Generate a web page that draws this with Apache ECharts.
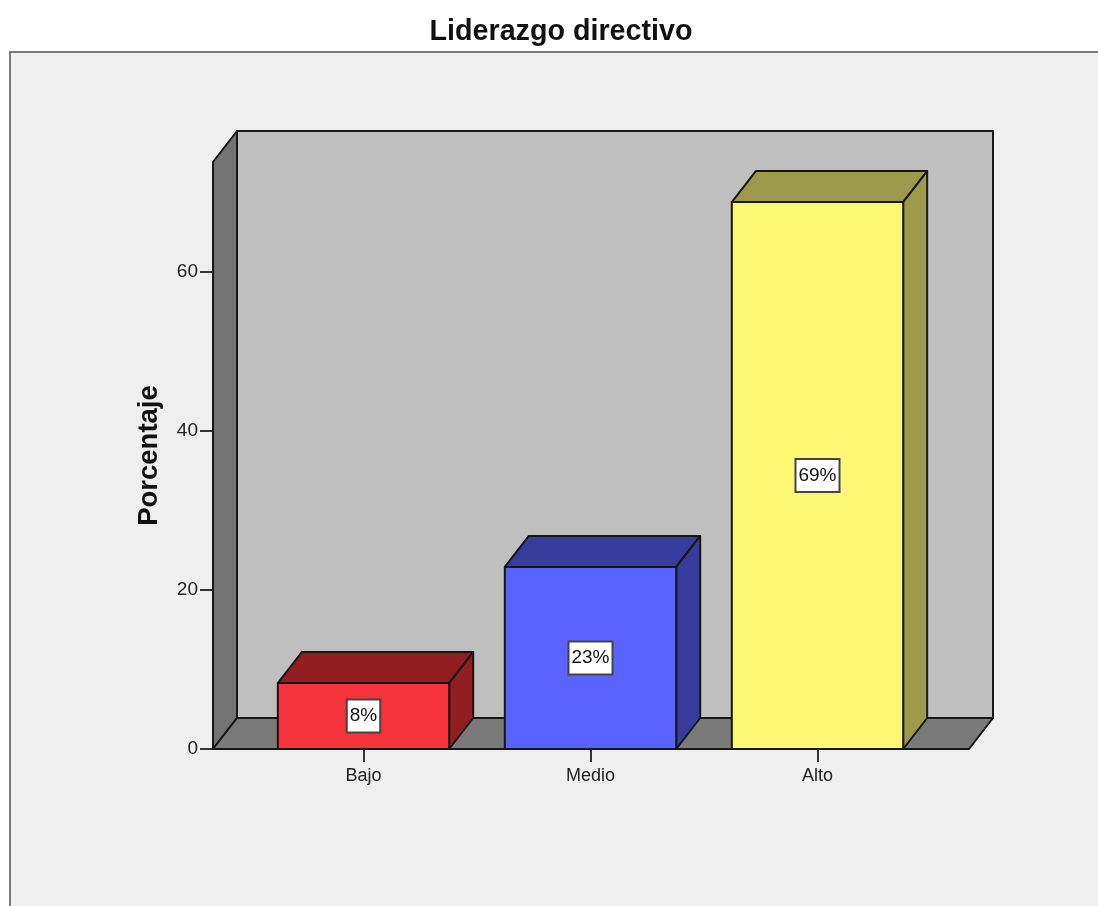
<!DOCTYPE html>
<html>
<head>
<meta charset="utf-8">
<script src="https://cdn.jsdelivr.net/npm/echarts@6/dist/echarts.min.js"></script>
<style>
  html, body { margin: 0; padding: 0; background: #fff; }
  #chart { width: 1098px; height: 906px; }
</style>
</head>
<body>
<div id="chart"></div>
<script>
var categories = ['Bajo', 'Medio', 'Alto']
var porcentajes = [8.3, 22.9, 68.8]
var yTicks = [0, 20, 40, 60]
var frontColors = ['#f5333b', '#5a62ff', '#fcf873']
var sideColors = ['#931e22', '#383c9c', '#9c9a4a']

var FONT = '"Liberation Sans", Arial, sans-serif'
var LINE = '#161616'
// fake 3d: how far the back wall sits from the front plane
var DX = 24
var DY = -31
var WALL_PAD_L = 37
var WALL_PAD_R = 38

function poly (points, fill) {
  return {
    type: 'polygon',
    shape: { points: points },
    style: { fill: fill, stroke: LINE, lineWidth: 2, lineJoin: 'round' }
  }
}

function renderWalls (params, api) {
  var c = params.coordSys
  var l = c.x - WALL_PAD_L
  var r = c.x + c.width + WALL_PAD_R
  var t = c.y
  var b = c.y + c.height
  return {
    type: 'group',
    children: [
      poly([[l + DX, t + DY], [r + DX, t + DY], [r + DX, b + DY], [l + DX, b + DY]], '#bfbfbf'),
      poly([[l, t], [l + DX, t + DY], [l + DX, b + DY], [l, b]], '#737373'),
      poly([[l, b], [l + DX, b + DY], [r + DX, b + DY], [r, b]], '#7a7a7a')
    ]
  }
}

function renderBar (params, api) {
  var i = api.value(0)
  var top = api.coord([i, api.value(1)])
  var base = api.coord([i, 0])
  var w = api.size([1, 0])[0] * 0.755
  var x0 = top[0] - w / 2
  var x1 = top[0] + w / 2
  var y0 = top[1]
  var y1 = base[1]
  return {
    type: 'group',
    children: [
      poly([[x0, y0], [x0 + DX, y0 + DY], [x1 + DX, y0 + DY], [x1, y0]], sideColors[i]),
      poly([[x1, y0], [x1 + DX, y0 + DY], [x1 + DX, y1 + DY], [x1, y1]], sideColors[i]),
      poly([[x0, y0], [x1, y0], [x1, y1], [x0, y1]], frontColors[i]),
      {
        type: 'text',
        x: top[0],
        y: (y0 + y1) / 2,
        style: {
          text: Math.round(api.value(1)) + '%',
          font: '19px ' + FONT,
          fill: '#111',
          align: 'center',
          verticalAlign: 'middle',
          backgroundColor: '#fff',
          borderColor: '#444',
          borderWidth: 2,
          padding: [7, 2, 5, 2]
        }
      }
    ]
  }
}

var chart = echarts.init(document.getElementById('chart'))
chart.setOption({
  animation: false,
  backgroundColor: '#fff',
  title: {
    text: 'Liderazgo directivo',
    left: 556,
    top: 13,
    textAlign: 'center',
    textStyle: { fontFamily: FONT, fontSize: 28.7, fontWeight: 'bold', color: '#111' }
  },
  graphic: [{
    type: 'rect',
    z: -10,
    shape: { x: 10, y: 52, width: 1200, height: 1000 },
    style: { fill: '#efefef', stroke: '#7a7a7a', lineWidth: 2 }
  }],
  grid: { left: 250, top: 162, width: 681, height: 587 },
  xAxis: {
    type: 'category',
    data: categories,
    axisLine: { show: false },
    axisTick: { show: true, alignWithLabel: true, length: 13, lineStyle: { color: '#333', width: 2 } },
    axisLabel: { fontFamily: FONT, fontSize: 18, color: '#222', margin: 18 }
  },
  yAxis: {
    type: 'value',
    min: 0,
    max: 73.84,
    offset: 37,
    splitLine: { show: false },
    axisLine: { show: false },
    axisTick: { show: true, customValues: yTicks, length: 13, lineStyle: { color: '#333', width: 2 } },
    axisLabel: { customValues: yTicks, fontFamily: FONT, fontSize: 19, color: '#222', margin: 15, padding: [6, 0, 0, 0] },
    name: 'Porcentaje',
    nameLocation: 'middle',
    nameGap: 50,
    nameMoveOverlap: false,
    nameTextStyle: { fontFamily: FONT, fontSize: 27.5, fontWeight: 'bold', color: '#111' }
  },
  series: [
    {
      type: 'custom',
      coordinateSystem: 'cartesian2d',
      renderItem: renderWalls,
      silent: true,
      z: 1,
      data: [[0, 0]]
    },
    {
      type: 'custom',
      coordinateSystem: 'cartesian2d',
      renderItem: renderBar,
      z: 2,
      encode: { x: 0, y: 1 },
      data: porcentajes.map(function (v, i) { return [i, v] })
    }
  ]
})
</script>
</body>
</html>
